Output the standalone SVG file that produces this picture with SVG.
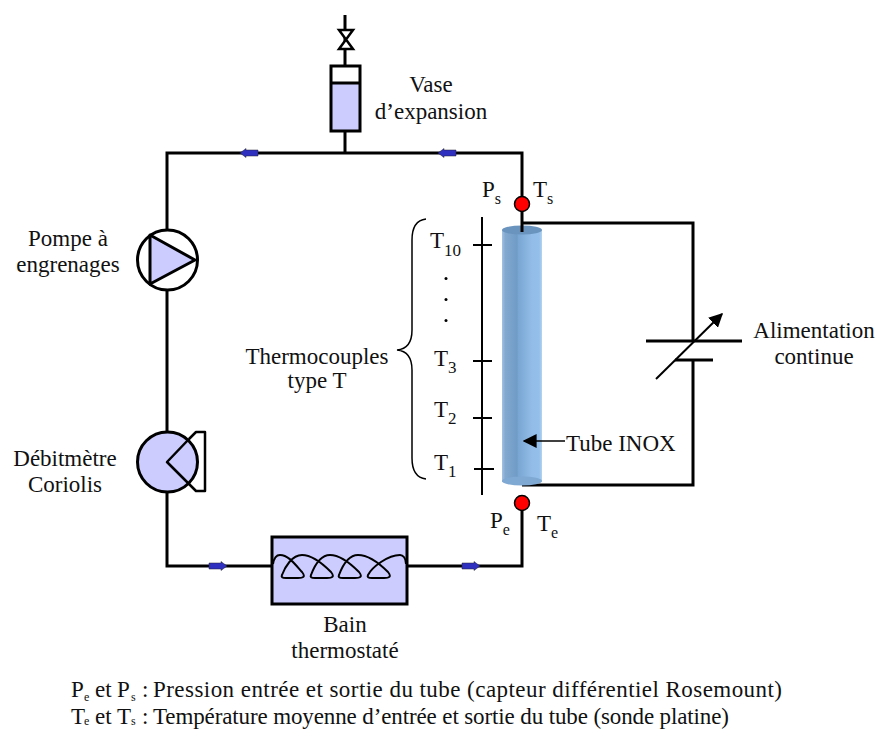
<svg xmlns="http://www.w3.org/2000/svg" width="879" height="729" viewBox="0 0 879 729">
<style>
text{font-family:"Liberation Serif","Times New Roman",serif;font-size:23px;fill:#111}
.m{text-anchor:middle}
.b{font-size:12px}
.s{font-size:16px}
.sub{font-size:17px}
.w{fill:none;stroke:#000;stroke-width:3}
.t{fill:none;stroke:#000;stroke-width:2}
.o{stroke:#000;stroke-width:3;fill:#ccf}
.r{fill:#f00;stroke:#000;stroke-width:1.5}
.f{fill:#3030c0;stroke:#223;stroke-width:.5}
</style>
<defs>
<linearGradient id="g" x1="0" x2="1" y1="0" y2="0">
<stop offset="0" stop-color="#a3c3e2"/><stop offset=".08" stop-color="#83a9cf"/><stop offset=".38" stop-color="#6f9bc6"/><stop offset=".4" stop-color="#78a5d2"/><stop offset=".75" stop-color="#93bde8"/><stop offset=".93" stop-color="#93bfea"/><stop offset="1" stop-color="#b5d3ef"/>
</linearGradient>
<marker id="a" viewBox="0 0 10 10" refX="9" refY="5" markerWidth="14" markerHeight="14" markerUnits="userSpaceOnUse" orient="auto"><path d="M0 0L10 5L0 10z" fill="#000"/></marker>
<path id="fa" class="f" d="M0-3H12V-4.500L18 0L12 4.500V3H0z"/>
</defs>
<g id="connectors">
<path class="w" d="M345 15V66M345 131V153M167 229V153H522V224M167 291V432M167 492V566H272M407 566H522V504M522 223H693V341M693 360V485H522"/>
<use href="#fa" transform="translate(258,153) rotate(180)"/>
<use href="#fa" transform="translate(456,153) rotate(180)"/>
<use href="#fa" transform="translate(209,566)"/>
<use href="#fa" transform="translate(462,566)"/>
</g>
<g id="valve"><path fill="#fff" stroke="#000" stroke-width="2.500" d="M339 30H353L339 49H353Z"/></g>
<g id="vase">
<rect x="331" y="83" width="29" height="48" fill="#ccf"/>
<path class="w" d="M331 83V66H360V131H331V83H360"/>
<text class="m" x="431" y="92">Vase</text>
<text class="m" x="431" y="119">d’expansion</text>
</g>
<g id="pompe">
<circle class="o" cx="167.500" cy="260" r="30" style="fill:#fff"/>
<path class="o" stroke-linejoin="round" d="M150 235L195 260L150 284Z"/>
<text class="m" x="68" y="246">Pompe à</text>
<text class="m" x="68" y="272">engrenages</text>
</g>
<g id="debitmetre">
<circle class="o" cx="167.500" cy="462" r="30"/>
<path fill="none" stroke="#000" stroke-width="2.500" stroke-linejoin="round" d="M189 439L167 462L196 491H205V432H196L189 439"/>
<text class="m" x="65" y="466">Débitmètre</text>
<text class="m" x="65" y="492">Coriolis</text>
</g>
<g id="bain">
<rect class="o" x="272" y="537" width="135" height="67"/>
<path class="t" d="M273 564C274 558 277 555 280 555C288 555 294 563 302 572C306 577 303 578 298 578H286C282 578 281 577 282 575C285 567 292 555 302 555C312 555 322 563 331 572C335 577 332 578 327 578H315C311 578 310 577 311 575C314 567 320 555 330 555C340 555 350 563 359 572C363 577 360 578 355 578H343C339 578 338 577 339 575C342 567 348 555 358 555C368 555 379 563 388 572C392 577 389 578 384 578H372C368 578 367 577 368 575C372 567 388 555 400 555C403 555 406 558 406 564"/>
<text class="m" x="345" y="632">Bain</text>
<text class="m" x="345" y="658">thermostaté</text>
</g>
<g id="tube">
<rect x="502" y="230" width="40" height="252" fill="url(#g)"/>
<ellipse cx="522" cy="481" rx="20" ry="4.500" fill="#7fa8d2"/>
<ellipse cx="522" cy="230" rx="20" ry="4.500" fill="#6a94be"/>
<path class="w" d="M522 224V232"/>
<path fill="none" stroke="#000" stroke-width="1.500" d="M565 441H524" marker-end="url(#a)"/>
<text x="566" y="451">Tube INOX</text>
</g>
<g id="capteur-s">
<circle class="r" cx="522" cy="204" r="7.500"/>
<text x="482" y="197">P<tspan class="s" dy="7">s</tspan></text>
<text x="533" y="197">T<tspan class="s" dy="7">s</tspan></text>
</g>
<g id="capteur-e">
<circle class="r" cx="522" cy="503" r="7.500"/>
<text x="490" y="528">P<tspan class="s" dy="7">e</tspan></text>
<text x="537" y="531">T<tspan class="s" dy="7">e</tspan></text>
</g>
<g id="thermocouples">
<path class="t" d="M482 217V495M473 245H492M473 361H492M473 418H492M474 469H494"/>
<path fill="none" stroke="#000" stroke-width="1.500" d="M426 219C417 220 412 226 412 240V330C412 342 408 349 397 350C408 351 412 358 412 370V458C412 472 417 478 426 479"/>
<circle cx="446" cy="278.500" r="1.500"/><circle cx="446" cy="299.500" r="1.500"/><circle cx="446" cy="320.500" r="1.500"/>
<text x="430" y="248">T<tspan class="sub" dy="8">10</tspan></text>
<text x="434" y="366">T<tspan class="sub" dy="7">3</tspan></text>
<text x="434" y="417">T<tspan class="sub" dy="7">2</tspan></text>
<text x="434" y="470">T<tspan class="sub" dy="7">1</tspan></text>
<text class="m" x="317" y="364">Thermocouples</text>
<text class="m" x="317" y="388">type T</text>
</g>
<g id="alimentation">
<path class="w" d="M646 341H742M675 360H713"/>
<path fill="none" stroke="#000" stroke-width="2" d="M656 379L722 314" marker-end="url(#a)"/>
<text class="m" x="814" y="338">Alimentation</text>
<text class="m" x="814" y="364">continue</text>
</g>
<g id="legende">
<text y="697"><tspan x="71">P</tspan><tspan x="84" dy="4" class="b">e</tspan><tspan x="95" dy="-4">et</tspan><tspan x="117">P</tspan><tspan x="131" dy="4" class="b">s</tspan><tspan x="142" dy="-4">:</tspan></text>
<text x="153" y="697" textLength="629">Pression entrée et sortie du tube (capteur différentiel Rosemount)</text>
<text y="723.500"><tspan x="71">T</tspan><tspan x="84" dy="1.500" class="b">e</tspan><tspan x="95" dy="-1.500">et</tspan><tspan x="117">T</tspan><tspan x="131" dy="1.500" class="b">s</tspan><tspan x="142" dy="-1.500">:</tspan></text>
<text x="153" y="723.500" textLength="576">Température moyenne d’entrée et sortie du tube (sonde platine)</text>
</g>
</svg>
